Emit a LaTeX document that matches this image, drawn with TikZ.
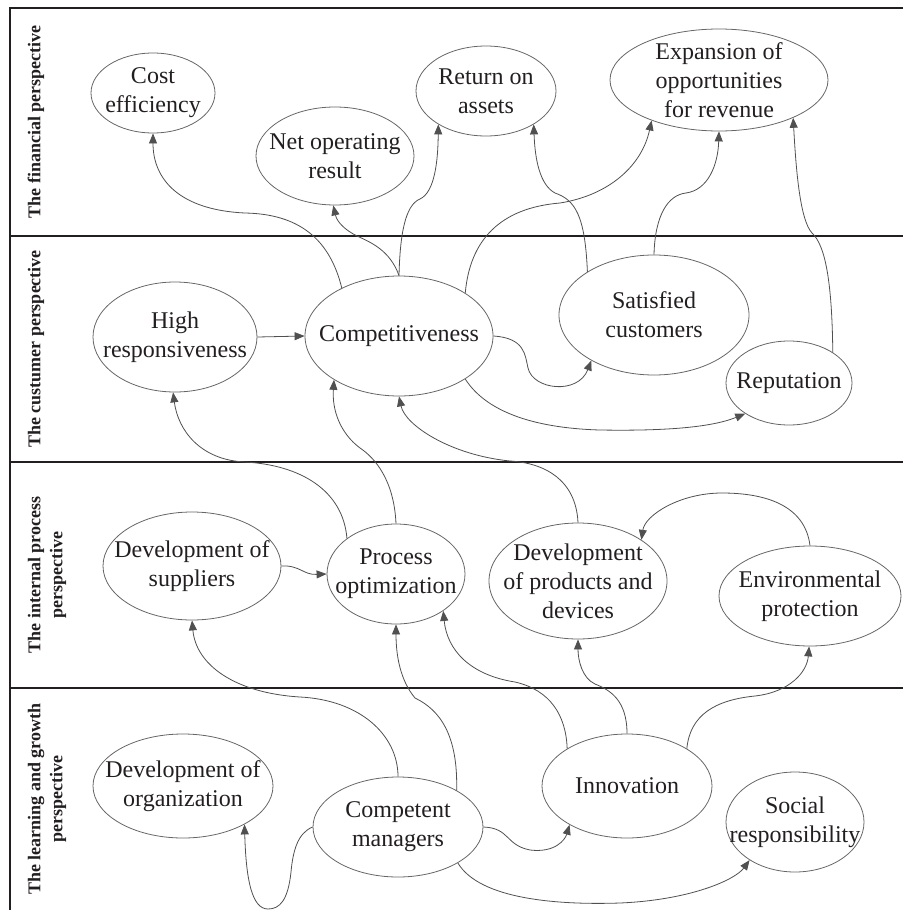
\documentclass[tikz,border=0pt]{standalone}
\usepackage{fontspec}
\setmainfont{Liberation Serif}
\usetikzlibrary{arrows.meta, shapes.geometric}
\definecolor{linegray}{HTML}{505050}
\definecolor{rimgray}{HTML}{666666}
\definecolor{inkdark}{HTML}{231F20}
\tikzset{>={Triangle[length=10pt,width=8pt]}}
\tikzset{
  goal/.style={draw=rimgray, line width=0.8pt, ellipse, inner sep=0pt},
  txt/.style={font=\fontsize{24}{29}\selectfont, align=center, text=inkdark, inner sep=0pt},
  lane/.style={font=\fontsize{18}{22}\selectfont\bfseries, align=center, text=inkdark, rotate=90},
  link/.style={->, draw=linegray, line width=0.8pt},
  border/.style={draw=inkdark, line width=1.6pt}
}

\begin{document}
\begin{tikzpicture}[x=1pt, y=-1pt]
\useasboundingbox (0,0) rectangle (903,910);
% perspectives
\draw[border] (903,8) -- (10,8) -- (10,910);
\foreach \y in {236,462,688} \draw[border] (10,\y) -- (903,\y);
\node[lane] (finlab) at (36,122) {The financial perspective};
\node[lane] (cuslab) at (36,349) {The custumer perspective};
\node[lane] (intlab) at (47,575) {The internal process\\perspective};
\node[lane] (lrnlab) at (47,799) {The learning and growth\\perspective};

% financial
\node[goal, minimum width=124pt, minimum height=80pt, label={[txt]center:Cost\\efficiency}] (cost) at (153,93) {};
\node[goal, minimum width=158pt, minimum height=98pt, label={[txt]center:Net operating\\result}] (net) at (335,156) {};
\node[goal, minimum width=140pt, minimum height=90pt, label={[txt]center:Return on\\assets}] (roa) at (486,91) {};
\node[goal, minimum width=218pt, minimum height=102pt, label={[txt]center:Expansion of\\opportunities\\for revenue}] (exp) at (719,80) {};
% customer
\node[goal, minimum width=164pt, minimum height=110pt, label={[txt]center:High\\responsiveness}] (high) at (175,337) {};
\node[goal, minimum width=188pt, minimum height=120pt, label={[txt]center:Competitiveness}] (comp) at (399,336) {};
\node[goal, minimum width=190pt, minimum height=120pt, label={[txt]center:Satisfied\\customers}] (sat) at (654,315) {};
\node[goal, minimum width=126pt, minimum height=84pt, label={[txt]center:Reputation}] (rep) at (789,383) {};
% internal process
\node[goal, minimum width=178pt, minimum height=108pt, label={[txt]center:Development of\\suppliers}] (ds) at (192,566) {};
\node[goal, minimum width=138pt, minimum height=100pt, label={[txt]center:Process\\optimization}] (po) at (396,574) {};
\node[goal, minimum width=178pt, minimum height=116pt, label={[txt]center:Development\\of products and\\devices}] (dp) at (578,581) {};
\node[goal, minimum width=182pt, minimum height=100pt, label={[txt]center:Environmental\\protection}] (ep) at (810,596) {};
% learning and growth
\node[goal, minimum width=180pt, minimum height=104pt, label={[txt]center:Development of\\organization}] (org) at (183,786) {};
\node[goal, minimum width=170pt, minimum height=100pt, label={[txt]center:Competent\\managers}] (cm) at (398,827) {};
\node[goal, minimum width=170pt, minimum height=104pt, label={[txt]center:Innovation}] (inn) at (627,786) {};
\node[goal, minimum width=138pt, minimum height=100pt, label={[txt]center:Social\\responsibility}] (soc) at (795,822) {};

% customer -> financial
\draw[link] (comp.140) .. controls (330,240) and (300,214) .. (245,213) .. controls (180,210) and (153,180) .. (cost.270);
\draw[link] (comp.90) .. controls (390,250) and (370,242) .. (357,236) .. controls (345,230) and (337,222) .. (net.268);
\draw[link] (comp.90) .. controls (400,235) and (405,205) .. (420,199) .. controls (435,192) and (438,160) .. (roa.215);
\draw[link] (sat.147) .. controls (585,215) and (575,200) .. (555,193) .. controls (540,185) and (535,160) .. (roa.325);
\draw[link] (comp.33) .. controls (470,240) and (500,208) .. (560,203) .. controls (610,195) and (642,165) .. (exp.211);
\draw[link] (sat.90) .. controls (655,215) and (668,195) .. (686,193) .. controls (708,190) and (718,165) .. (exp.270);
\draw[link] (rep.35) .. controls (832,280) and (825,245) .. (812,233) .. controls (800,220) and (796,170) .. (exp.333);
% within customer
\draw[link] (high.east) -- (comp.west);
\draw[link] (comp.east) .. controls (525,338) and (525,355) .. (528,368) .. controls (533,390) and (578,395) .. (sat.216);
\draw[link] (comp.327) .. controls (485,410) and (530,428) .. (600,430) .. controls (660,431) and (710,428) .. (rep.215);
% internal -> customer
\draw[link] (po.144) .. controls (343,490) and (300,465) .. (245,462) .. controls (200,460) and (178,430) .. (high.268);
\draw[link] (po.90) .. controls (394,480) and (375,458) .. (360,448) .. controls (340,433) and (332,410) .. (comp.214);
\draw[link] (dp.90) .. controls (576,480) and (545,463) .. (510,461) .. controls (450,455) and (405,425) .. (comp.270);
% within internal
\draw[link] (ds.east) .. controls (300,565) and (303,575) .. (po.west);
\draw[link] (ep.90) .. controls (805,505) and (765,493) .. (722,493) .. controls (680,493) and (645,515) .. (dp.33);
% learning -> internal
\draw[link] (cm.90) .. controls (398,735) and (360,700) .. (300,697) .. controls (235,693) and (196,665) .. (ds.270);
\draw[link] (cm.32) .. controls (458,735) and (440,710) .. (415,698) .. controls (400,680) and (396,655) .. (po.270);
\draw[link] (inn.148) .. controls (566,715) and (550,690) .. (515,682) .. controls (470,675) and (447,650) .. (po.322);
\draw[link] (inn.90) .. controls (627,700) and (610,690) .. (595,684) .. controls (582,678) and (578,660) .. (dp.270);
\draw[link] (inn.32) .. controls (690,715) and (715,700) .. (755,696) .. controls (790,692) and (807,672) .. (ep.269);
% within learning
\draw[link] (cm.180) .. controls (298,833) and (293,850) .. (291,872) .. controls (288,900) and (280,909) .. (268,909) .. controls (252,909) and (246,880) .. (org.328);
\draw[link] (cm.east) .. controls (510,828) and (505,845) .. (530,850) .. controls (555,853) and (565,840) .. (inn.214);
\draw[link] (cm.329) .. controls (480,900) and (560,905) .. (620,903) .. controls (690,900) and (735,880) .. (soc.220);
\end{tikzpicture}
\end{document}
